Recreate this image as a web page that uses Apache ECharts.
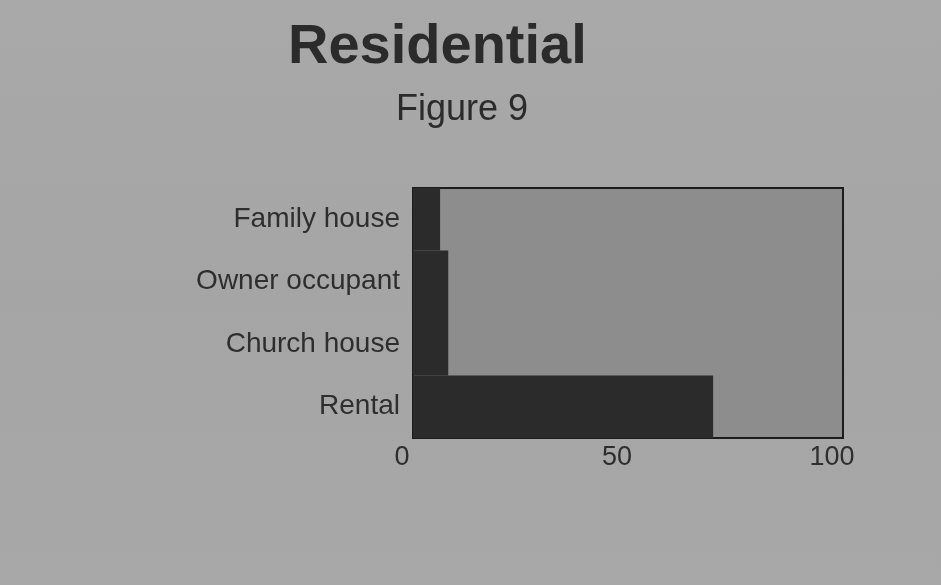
<!DOCTYPE html>
<html>
<head>
<meta charset="utf-8">
<script src="https://cdn.jsdelivr.net/npm/echarts@6/dist/echarts.min.js"></script>
<style>
  html, body { margin: 0; padding: 0; background: #a7a7a7; }
  #chart { width: 941px; height: 585px; }
</style>
</head>
<body>
<div id="chart"></div>
<script>
// Housing type shares (percent)
const categories = ['Family house', 'Owner occupant', 'Church house', 'Rental'];
const shares = [6.3, 8.2, 8.2, 69.8];
const tickValues = [0, 50, 100];

const chart = echarts.init(document.getElementById('chart'));

chart.setOption({
  backgroundColor: {
    type: 'linear', x: 0, y: 0, x2: 0, y2: 1,
    colorStops: [
      { offset: 0, color: '#a9a9a9' },
      { offset: 0.5, color: '#a5a5a5' },
      { offset: 1, color: '#a8a8a8' }
    ]
  },
  animation: false,
  title: [
    {
      text: 'Residential',
      left: 283, top: 15,
      textStyle: { fontFamily: 'Liberation Sans', fontSize: 56, fontWeight: 'bold', color: '#2b2b2b' }
    },
    {
      text: 'Figure 9',
      left: 391, top: 87,
      textStyle: { fontFamily: 'Liberation Sans', fontSize: 36, fontWeight: 'normal', color: '#2b2b2b' }
    }
  ],
  grid: {
    left: 413, top: 188, width: 430, height: 250,
    show: true,
    backgroundColor: '#8d8d8d',
    borderColor: '#1c1c1c',
    borderWidth: 2
  },
  xAxis: {
    type: 'value',
    min: 0, max: 100, interval: 50,
    axisLine: { show: false },
    axisTick: { show: false },
    splitLine: { show: false },
    axisLabel: {
      margin: 6,
      fontFamily: 'Liberation Sans',
      fontSize: 27,
      color: '#2e2e2e',
      padding: [0, 22, 0, 0],
      customValues: tickValues
    }
  },
  yAxis: {
    type: 'category',
    data: categories,
    inverse: true,
    axisLine: { show: false },
    axisTick: { show: false },
    axisLabel: {
      margin: 13,
      fontFamily: 'Liberation Sans',
      fontSize: 28,
      color: '#2e2e2e'
    }
  },
  series: [{
    type: 'bar',
    data: shares,
    barCategoryGap: '0%',
    itemStyle: { color: '#2b2b2b' }
  }]
});
</script>
</body>
</html>
